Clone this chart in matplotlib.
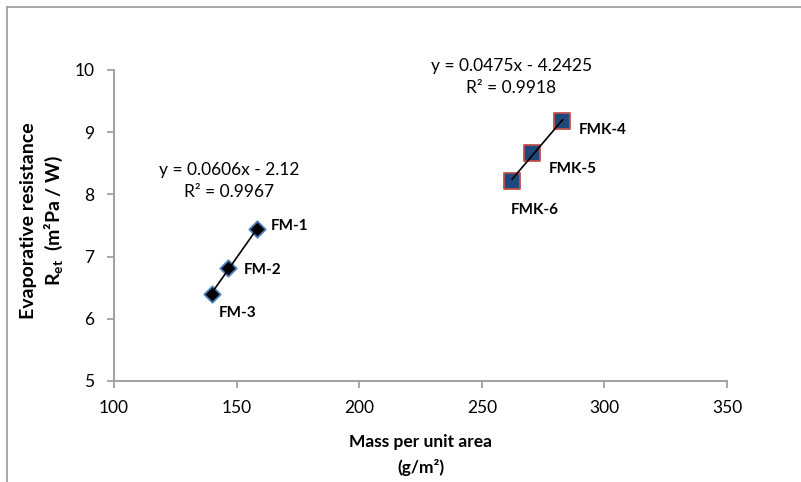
import numpy as np
import matplotlib
matplotlib.use("Agg")
import matplotlib.pyplot as plt
from matplotlib.lines import Line2D

plt.rcParams["font.family"] = ["Lato", "DejaVu Sans"]
plt.rcParams["mathtext.fontset"] = "custom"
plt.rcParams["mathtext.rm"] = "Lato"
plt.rcParams["mathtext.bf"] = "Lato:bold"
plt.rcParams["mathtext.it"] = "Lato:italic"

# data
fm_names = ["FM-1", "FM-2", "FM-3"]
fm_mass = [158.4, 146.5, 140.0]
fm_ret = [7.44, 6.82, 6.40]

fmk_names = ["FMK-4", "FMK-5", "FMK-6"]
fmk_mass = [282.9, 270.6, 262.4]
fmk_ret = [9.18, 8.67, 8.22]

fm_eq = "y = 0.0606x - 2.12\nR² = 0.9967"
fmk_eq = "y = 0.0475x - 4.2425\nR² = 0.9918"

x_ticks = [100, 150, 200, 250, 300, 350]
y_ticks = [5, 6, 7, 8, 9, 10]

# label offsets in points (dx, dy, ha)
fm_offsets = [(10, 2, "left"), (11, -1.5, "left"), (18, -14, "center")]
fmk_offsets = [(12, -6.5, "left"), (12, -12, "left"), (16, -21, "center")]

fig = plt.figure(figsize=(8.01, 4.82), dpi=100)
ax = fig.add_axes([114 / 801, 1 - 381 / 482, (727 - 114) / 801, (381 - 70) / 482])

grey = "#a0a0a0"

# trendlines over each series' range
for xs, ys in [(fm_mass, fm_ret), (fmk_mass, fmk_ret)]:
    k, b = np.polyfit(xs, ys, 1)
    xx = np.array([min(xs), max(xs)])
    ax.plot(xx, k * xx + b, color="black", lw=1.2, zorder=3)

ax.scatter(fm_mass, fm_ret, marker="D", s=70, color="black",
           edgecolor="#4f81bd", linewidth=1.3, zorder=2)
ax.scatter(fmk_mass, fmk_ret, marker="s", s=125, color="#1f497d",
           edgecolor="#c0504d", linewidth=1.3, zorder=2)

for name, x, y, (dx, dy, ha) in zip(fm_names, fm_mass, fm_ret, fm_offsets):
    ax.annotate(name, (x, y), xytext=(dx, dy), textcoords="offset points",
                ha=ha, va="center", fontsize=11, fontweight="bold")
for name, x, y, (dx, dy, ha) in zip(fmk_names, fmk_mass, fmk_ret, fmk_offsets):
    ax.annotate(name, (x, y), xytext=(dx, dy), textcoords="offset points",
                ha=ha, va="center", fontsize=11, fontweight="bold")

ax.text(146.9, 8.21, fm_eq, ha="center", va="center", fontsize=12.5,
        linespacing=1.45)
ax.text(262.0, 9.89, fmk_eq, ha="center", va="center", fontsize=12.5,
        linespacing=1.45)

ax.set_xlim(100, 350)
ax.set_ylim(5, 10)
ax.set_xticks(x_ticks)
ax.set_yticks(y_ticks)
ax.tick_params(labelsize=12.5, length=5, width=1.3, color=grey, direction="out")
ax.tick_params(axis="x", pad=9)
ax.tick_params(axis="y", pad=9)
for s in ["top", "right"]:
    ax.spines[s].set_visible(False)
for s in ["left", "bottom"]:
    ax.spines[s].set_color(grey)
    ax.spines[s].set_linewidth(1.4)

fig.text(29 / 801, 1 - 221 / 482, "Evaporative resistance", rotation=90,
         ha="center", va="center", fontsize=14, fontweight="bold")
fig.text(54 / 801, 1 - 221 / 482, r"$\mathbf{R_{et}}$  (m²Pa / W)", rotation=90,
         ha="center", va="center", fontsize=14, fontweight="bold")

fig.text(421 / 801, 1 - 442 / 482, "Mass per unit area", ha="center",
         va="center", fontsize=12.5, fontweight="bold")
fig.text(421 / 801, 1 - 467 / 482, "(g/m²)", ha="center", va="center",
         fontsize=12.5, fontweight="bold")

# outer chart frame (left and top edges visible)
fig.add_artist(Line2D([7 / 801, 7 / 801], [0, 1 - 7 / 482], color=grey, lw=1.3))
fig.add_artist(Line2D([7 / 801, 1], [1 - 7 / 482, 1 - 7 / 482], color=grey, lw=1.3))

fig.savefig("out.png", dpi=100)
